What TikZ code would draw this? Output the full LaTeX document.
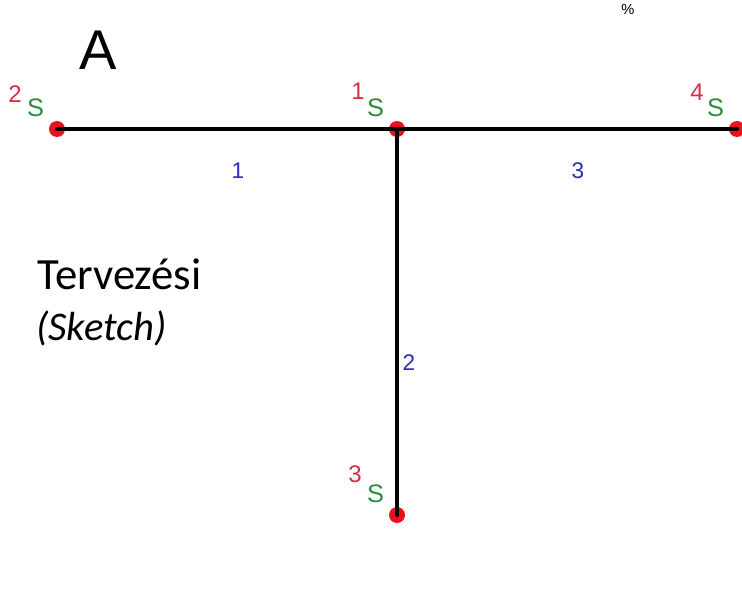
\documentclass[tikz,border=0pt]{standalone}
\usepackage{fontspec}
\setmainfont{Liberation Sans}
\newfontfamily\calib{Carlito}
\usetikzlibrary{positioning,calc}
\definecolor{ptred}{RGB}{232,18,28}
\definecolor{numred}{RGB}{215,45,70}
\definecolor{sgreen}{RGB}{45,140,60}
\definecolor{segblue}{RGB}{45,45,190}

\begin{document}
\begin{tikzpicture}[x=0.75pt,y=-0.75pt, line join=round, line cap=round]
	\tikzset{pt/.style={circle,fill=ptred,inner sep=0pt,minimum size=12pt},
		idx/.style={text=numred,font=\fontsize{18}{18}\selectfont,inner sep=0pt},
		ess/.style={text=sgreen,font=\fontsize{19}{19}\selectfont,inner sep=0pt},
		seg/.style={text=segblue,font=\fontsize{17}{17}\selectfont,inner sep=0pt}}
	\useasboundingbox[fill=white] (0,0) rectangle (742,606);
	\node[font=\fontsize{42}{42}\selectfont,inner sep=0pt,anchor=base] (cA) at (98,70) {A};
	\node[font=\fontsize{11}{11}\selectfont,inner sep=0pt] (pct) at (628,9) {\%};
	\node[pt] (p1) at (397,129) {};
	\node[pt] (p2) at (57,129) {};
	\node[pt] (p3) at (397,515) {};
	\node[pt] (p4) at (737,129) {};
	\draw[line width=3pt] (p2.center)--(p1.center)--(p4.center) (p1.center)--(p3.center);
	\foreach \p/\n/\dx/\dy in {p1/1/-39/-38,p2/2/-42/-35,p3/3/-42/-41,p4/4/-40/-37}
	{\node[idx] at ($(\p)+(\dx,\dy)$) {\n};
		\node[ess] at ($(\p)+(-21.5,-21)$) {S};}
	\node[seg] (s1) at (238,171) {1};
	\node[seg] (s2) at (409,363) {2};
	\node[seg] (s3) at (578,171) {3};
	\node[anchor=base west,font=\calib\fontsize{33.5}{33.5}\selectfont,inner sep=0pt] (tv) at (37,289) {Tervezési};
	\node[anchor=base west,font=\calib\fontsize{30.5}{30.5}\selectfont\itshape,inner sep=0pt] (sk) at (36,340) {(Sketch)};
\end{tikzpicture}
\end{document}
